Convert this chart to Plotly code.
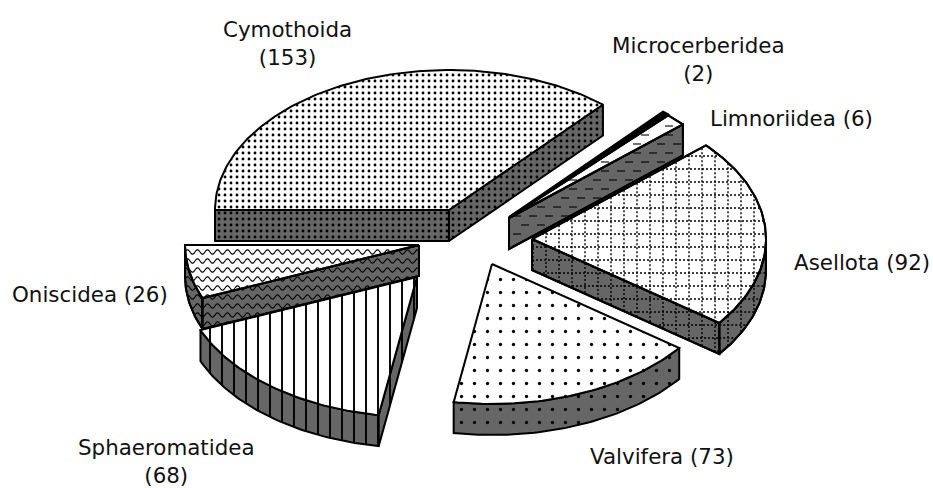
import numpy as np
import plotly.graph_objects as go

# Data
categories = ["Cymothoida", "Microcerberidea", "Limnoriidea", "Asellota", "Valvifera", "Sphaeromatidea", "Oniscidea"]
values = [153, 2, 6, 92, 73, 68, 26]

# Exploded-pie layout (pixels on a 933x488 plot)
START = 270.0
RX, RY, DEPTH = 234.0, 140.0, 31.0
APEX = {
    "Cymothoida": (449, 210),
    "Microcerberidea": (509, 217),
    "Limnoriidea": (509, 218),
    "Asellota": (532, 239),
    "Valvifera": (492, 264),
    "Sphaeromatidea": (417, 277),
    "Oniscidea": (419, 245),
}
STYLE = {
    "Cymothoida": dict(shape=".", size=6, solidity=0.18),
    "Microcerberidea": None,
    "Limnoriidea": "dash",
    "Asellota": "grid",
    "Valvifera": dict(shape=".", size=13, solidity=0.05),
    "Sphaeromatidea": dict(shape="|", size=12, solidity=0.16),
    "Oniscidea": "wave",
}
DRAW_ORDER = ["Cymothoida", "Microcerberidea", "Limnoriidea", "Asellota", "Valvifera", "Sphaeromatidea", "Oniscidea"]
LABELS = [
    ("Cymothoida<br>(153)", 287, 43),
    ("Microcerberidea<br>(2)", 698, 59),
    ("Limnoriidea (6)", 791, 118),
    ("Asellota (92)", 862, 262),
    ("Valvifera (73)", 662, 456),
    ("Sphaeromatidea<br>(68)", 166, 461),
    ("Oniscidea (26)", 90, 294),
]

GRAY = "#666666"
fig = go.Figure()


def inside(px, py, poly):
    poly = np.asarray(poly)
    x0, y0 = poly[:, 0], poly[:, 1]
    x1, y1 = np.roll(x0, -1), np.roll(y0, -1)
    res = np.zeros(len(px), dtype=bool)
    for a, b, c, d in zip(x0, y0, x1, y1):
        if b == d:
            continue
        cond = (b > py) != (d > py)
        xi = a + (py - b) / (d - b) * (c - a)
        res ^= cond & (px < xi)
    return res


def add_lines(xs, ys, dash=None, width=1.0):
    fig.add_trace(go.Scatter(x=xs, y=ys, mode="lines", hoverinfo="skip", showlegend=False,
                             line=dict(color="black", width=width, dash=dash, simplify=False)))


def texture(kind, poly):
    p = np.asarray(poly)
    xmin, xmax, ymin, ymax = p[:, 0].min(), p[:, 0].max(), p[:, 1].min(), p[:, 1].max()
    if kind == "wave":
        X, Y = [], []
        for y0 in np.arange(np.floor(ymin / 9) * 9, ymax + 9, 9.0):
            x = np.arange(xmin, xmax + 1, 1.0)
            y = y0 + 2.2 * np.sin(2 * np.pi * x / 10)
            ok = inside(x, y, p)
            X += list(np.where(ok, x, np.nan)) + [np.nan]
            Y += list(y) + [np.nan]
        add_lines(X, Y, width=1.1)
    elif kind == "grid":
        X, Y = [], []
        for y0 in np.arange(np.floor(ymin / 13) * 13, ymax + 13, 13.0):
            x = np.arange(xmin, xmax + 1, 1.0)
            y = np.full_like(x, y0)
            ok = inside(x, y, p)
            X += list(np.where(ok, x, np.nan)) + [np.nan]
            Y += list(y) + [np.nan]
        for x0 in np.arange(np.floor(xmin / 13) * 13, xmax + 13, 13.0):
            y = np.arange(ymin, ymax + 1, 1.0)
            x = np.full_like(y, x0)
            ok = inside(x, y, p)
            X += list(x) + [np.nan]
            Y += list(np.where(ok, y, np.nan)) + [np.nan]
        add_lines(X, Y, dash="2px,2px", width=1.4)
    elif kind == "dash":
        X, Y = [], []
        for row, y0 in enumerate(np.arange(np.floor(ymin / 9) * 9, ymax + 9, 9.0)):
            for x0 in np.arange(xmin - 20 + (row % 2) * 8, xmax, 16.0):
                if inside(np.array([x0, x0 + 8.0]), np.array([y0, y0]), p).all():
                    X += [x0, x0 + 8.0, np.nan]
                    Y += [y0, y0, np.nan]
        add_lines(X, Y, width=1.1)


def face(poly, bg, style):
    xs = [q[0] for q in poly] + [poly[0][0]]
    ys = [q[1] for q in poly] + [poly[0][1]]
    kw = {}
    if isinstance(style, dict):
        kw["fillpattern"] = dict(fgcolor="black", bgcolor=bg, fillmode="overlay", fgopacity=1, **style)
    fig.add_trace(go.Scatter(x=xs, y=ys, mode="lines", fill="toself", fillcolor=bg, hoverinfo="skip",
                             showlegend=False, line=dict(color="black", width=2), **kw))
    if isinstance(style, str):
        texture(style, poly)
        fig.add_trace(go.Scatter(x=xs, y=ys, mode="lines", hoverinfo="skip", showlegend=False,
                                 line=dict(color="black", width=2)))


def arc(ax, ay, a, b, shift=0.0):
    n = max(2, int(abs(b - a)) + 2)
    t = np.radians(np.linspace(a, b, n))
    return list(zip(ax + RX * np.sin(t), ay - RY * np.cos(t) + shift))


total = sum(values)
sweeps = [v / total * 360 for v in values]
starts = (START + np.concatenate([[0], np.cumsum(sweeps)[:-1]])) % 360
geom = {c: (s, s + w) for c, s, w in zip(categories, starts, sweeps)}

for name in DRAW_ORDER:
    a, b = geom[name]
    ax, ay = APEX[name]
    st = STYLE[name]
    top_bg = "black" if st is None else "white"
    side_bg = "black" if st is None else GRAY
    # outer rim: only the part facing the viewer (angles 90..270 from the top)
    lo, hi = max(a, 90.0), min(b, 270.0)
    if lo < hi:
        rim = arc(ax, ay, lo, hi)
        face(rim + [(x, y + DEPTH) for x, y in rim[::-1]], side_bg, st)
    # straight cut faces
    if np.sin(np.radians(a)) < 0:
        e = (ax + RX * np.sin(np.radians(a)), ay - RY * np.cos(np.radians(a)))
        face([(ax, ay), e, (e[0], e[1] + DEPTH), (ax, ay + DEPTH)], side_bg, st)
    if np.sin(np.radians(b)) > 0:
        e = (ax + RX * np.sin(np.radians(b)), ay - RY * np.cos(np.radians(b)))
        face([(ax, ay), e, (e[0], e[1] + DEPTH), (ax, ay + DEPTH)], side_bg, st)
    # top face
    face([(ax, ay)] + arc(ax, ay, a, b), top_bg, st)

for text, x, y in LABELS:
    fig.add_annotation(x=x, y=y, text=text, showarrow=False, xref="x", yref="y",
                       font=dict(family="DejaVu Sans", size=21.4, color="#111111"))

fig.update_layout(
    width=933, height=488, margin=dict(l=0, r=0, t=0, b=0),
    paper_bgcolor="white", plot_bgcolor="white", showlegend=False,
    xaxis=dict(range=[0, 933], visible=False, fixedrange=True),
    yaxis=dict(range=[488, 0], visible=False, fixedrange=True),
)
fig.write_html("out.html", config=dict(displayModeBar=False),
               post_script="document.body.style.margin='0';document.documentElement.style.overflow='hidden';")
